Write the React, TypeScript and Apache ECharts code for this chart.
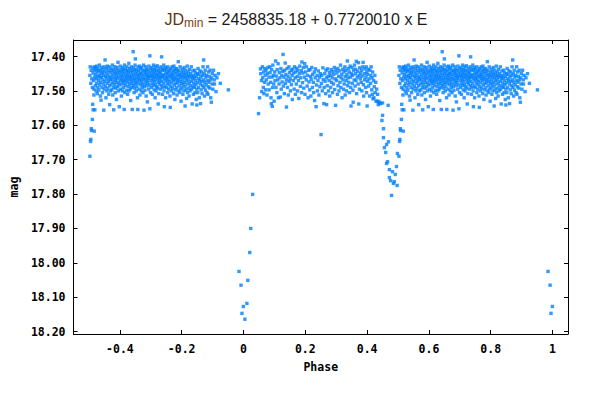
import React, { useEffect, useRef } from "react";
import * as echarts from "echarts";

const xTicks = [-0.4, -0.2, 0, 0.2, 0.4, 0.6, 0.8, 1];
const yTicks = [17.4, 17.5, 17.6, 17.7, 17.8, 17.9, 18.0, 18.1, 18.2];

// [phase, mag]; phases >= 0.5 are also shown at phase-1
const primaryMin: [number, number][] = [
  [0.9855, 18.025], [0.992, 18.065], [0.995, 18.147], [0.9995, 18.127], [0.0045, 18.164],
  [0.011, 18.118], [0.014, 18.051], [0.0203, 17.97], [0.0235, 17.9], [0.0297, 17.801],
  [0.0487, 17.566],
];

const maxOne: [number, number][] = [
  [0.052,17.52],[0.055,17.436],[0.056,17.45],[0.058,17.47],[0.059,17.502],[0.061,17.43],[0.062,17.462],[0.064,17.49],[0.065,17.445],[0.066,17.508],[0.068,17.475],[0.069,17.435],[0.07,17.455],[0.072,17.497],[0.073,17.44],[0.074,17.468],[0.076,17.512],[0.077,17.45],[0.079,17.432],[0.08,17.48],[0.082,17.46],[0.083,17.497],[0.085,17.43],[0.086,17.447],[0.088,17.475],[0.089,17.52],[0.091,17.438],[0.092,17.46],[0.094,17.49],[0.095,17.425],[0.097,17.455],[0.098,17.48],[0.099,17.53],[0.09,17.537],[0.093,17.545],
  [0.101,17.445],[0.102,17.47],[0.104,17.413],[0.105,17.49],[0.106,17.457],[0.108,17.505],[0.109,17.438],
  [0.111,17.468],[0.112,17.421],[0.113,17.52],[0.115,17.48],[0.116,17.447],[0.118,17.462],[0.119,17.518],
  [0.121,17.435],[0.122,17.495],[0.124,17.455],[0.125,17.474],[0.127,17.443],[0.128,17.394],[0.129,17.486],
  [0.131,17.46],[0.132,17.508],[0.133,17.44],[0.135,17.419],[0.136,17.478],[0.137,17.452],[0.139,17.547],[0.139,17.468],
  [0.141,17.435],[0.142,17.49],[0.144,17.458],[0.145,17.512],[0.147,17.43],[0.148,17.472],[0.149,17.447],
  [0.151,17.465],[0.152,17.5],[0.154,17.44],[0.155,17.482],[0.157,17.455],[0.158,17.525],[0.159,17.437],
  [0.161,17.47],[0.162,17.448],[0.164,17.495],[0.165,17.43],[0.167,17.462],[0.168,17.51],[0.169,17.445],
  [0.171,17.48],[0.172,17.434],[0.174,17.458],[0.175,17.5],[0.176,17.44],[0.178,17.47],[0.179,17.522],
  [0.181,17.45],[0.182,17.428],[0.184,17.487],[0.185,17.462],[0.187,17.441],[0.188,17.505],[0.189,17.416],
  [0.191,17.476],[0.192,17.448],[0.194,17.432],[0.195,17.492],[0.197,17.46],[0.198,17.421],[0.199,17.51],
  [0.201,17.445],[0.203,17.468],[0.204,17.43],[0.206,17.486],[0.207,17.455],[0.209,17.52],
  [0.211,17.44],[0.212,17.474],[0.214,17.497],[0.215,17.438],[0.217,17.458],[0.218,17.515],[0.219,17.466],
  [0.221,17.432],[0.223,17.49],[0.224,17.452],[0.226,17.475],[0.227,17.505],[0.229,17.445],
  [0.23,17.528],[0.232,17.462],[0.233,17.436],[0.235,17.546],[0.236,17.483],[0.238,17.455],[0.239,17.5],
  [0.241,17.47],[0.242,17.442],[0.244,17.512],[0.246,17.46],[0.247,17.488],[0.249,17.45],
  [0.251,17.627],[0.252,17.478],[0.253,17.455],[0.255,17.5],[0.257,17.433],[0.258,17.467],[0.26,17.537],
  [0.261,17.49],[0.263,17.45],[0.264,17.472],[0.266,17.508],[0.267,17.44],[0.269,17.54],[0.269,17.462],
  [0.271,17.485],[0.272,17.436],[0.274,17.458],[0.275,17.5],[0.277,17.47],[0.278,17.447],[0.279,17.515],
  [0.281,17.455],[0.282,17.49],[0.284,17.438],[0.285,17.475],[0.287,17.462],[0.288,17.505],[0.289,17.444],
  [0.291,17.48],[0.292,17.452],[0.294,17.432],[0.295,17.496],[0.297,17.465],[0.298,17.542],[0.299,17.44],
  [0.301,17.47],[0.302,17.448],[0.304,17.51],[0.305,17.435],[0.306,17.485],[0.308,17.458],[0.309,17.5],
  [0.311,17.442],[0.312,17.475],[0.314,17.425],[0.315,17.49],[0.316,17.462],[0.318,17.452],[0.319,17.52],
  [0.321,17.437],[0.322,17.468],[0.324,17.495],[0.325,17.445],[0.326,17.48],[0.328,17.43],[0.329,17.458],[0.329,17.512],
  [0.331,17.44],[0.332,17.47],[0.333,17.5],[0.335,17.452],[0.336,17.413],[0.337,17.485],[0.338,17.462],[0.339,17.435],
  [0.341,17.475],[0.342,17.445],[0.343,17.505],[0.345,17.428],[0.346,17.46],[0.347,17.49],[0.348,17.544],[0.349,17.45],
  [0.351,17.432],[0.352,17.478],[0.353,17.455],[0.354,17.498],[0.355,17.533],[0.356,17.44],[0.358,17.468],[0.359,17.425],
  [0.361,17.486],[0.362,17.45],[0.363,17.437],[0.364,17.47],[0.365,17.414],[0.366,17.508],[0.368,17.46],[0.369,17.443],
  [0.371,17.48],[0.372,17.418],[0.373,17.538],[0.374,17.455],[0.375,17.495],[0.376,17.433],[0.378,17.465],[0.379,17.448],
  [0.381,17.475],[0.382,17.44],[0.383,17.5],[0.384,17.457],[0.386,17.43],[0.387,17.417],[0.388,17.482],[0.389,17.515],
  [0.391,17.45],[0.392,17.468],[0.393,17.436],[0.395,17.49],[0.396,17.46],[0.397,17.43],[0.398,17.505],[0.399,17.445],
  [0.4,17.544],[0.401,17.472],[0.402,17.452],[0.404,17.437],[0.405,17.486],[0.406,17.465],[0.408,17.515],[0.409,17.44],
  [0.411,17.478],[0.412,17.455],[0.413,17.43],[0.415,17.497],[0.416,17.462],[0.417,17.51],[0.418,17.445],
  [0.419,17.523],[0.421,17.47],[0.422,17.52],[0.423,17.488],[0.425,17.455],[0.426,17.505],[0.428,17.475],[0.429,17.53],
  [0.431,17.495],[0.432,17.53],[0.434,17.51],[0.436,17.54],[0.438,17.531],[0.44,17.535],[0.443,17.537],[0.45,17.535],[0.468,17.542],
];

const secondaryMin: [number, number][] = [
  [0.448,17.586],[0.45,17.571],[0.453,17.61],[0.453,17.636],[0.456,17.665],[0.46,17.679],[0.463,17.656],
  [0.463,17.711],[0.466,17.706],[0.469,17.648],[0.472,17.729],[0.472,17.752],[0.476,17.761],[0.479,17.804],
  [0.482,17.735],[0.485,17.769],[0.488,17.764],[0.491,17.743],[0.495,17.72],[0.497,17.775],[0.498,17.682],
  [0.503,17.69],[0.505,17.647],[0.506,17.641],[0.5075,17.61],[0.5085,17.615],[0.511,17.583],[0.512,17.539],[0.5135,17.555],
];

const maxTwo: [number, number][] = [
  [0.503,17.455],[0.504,17.43],[0.506,17.478],[0.507,17.44],[0.509,17.465],[0.511,17.49],[0.513,17.448],[0.514,17.432],
  [0.515,17.47],[0.516,17.495],[0.517,17.44],[0.517,17.617],[0.518,17.46],[0.519,17.555],[0.519,17.43],[0.516,17.512],
  [0.521,17.452],[0.521,17.485],[0.522,17.437],[0.523,17.5],[0.524,17.465],[0.525,17.428],[0.525,17.478],[0.526,17.445],[0.527,17.508],[0.528,17.458],[0.529,17.49],[0.529,17.435],
  [0.531,17.47],[0.531,17.442],[0.532,17.498],[0.533,17.455],[0.534,17.425],[0.535,17.482],[0.536,17.462],[0.537,17.515],[0.537,17.44],[0.538,17.475],[0.539,17.45],[0.539,17.527],
  [0.541,17.46],[0.541,17.432],[0.542,17.49],[0.543,17.447],[0.544,17.505],[0.545,17.468],[0.546,17.438],[0.547,17.48],[0.548,17.556],[0.548,17.455],[0.549,17.495],[0.549,17.43],
  [0.551,17.472],[0.551,17.445],[0.552,17.41],[0.553,17.487],[0.554,17.458],[0.555,17.52],[0.556,17.436],[0.557,17.465],[0.558,17.5],[0.558,17.448],[0.559,17.478],[0.559,17.428],
  [0.561,17.492],[0.561,17.455],[0.562,17.44],[0.563,17.472],[0.564,17.51],[0.565,17.43],[0.566,17.462],[0.567,17.485],[0.567,17.54],[0.568,17.447],[0.569,17.468],[0.569,17.5],
  [0.571,17.435],[0.571,17.458],[0.572,17.48],[0.573,17.442],[0.574,17.497],[0.575,17.466],[0.576,17.425],[0.577,17.512],[0.577,17.452],[0.578,17.475],[0.579,17.438],[0.579,17.49],
  [0.58,17.555],[0.581,17.46],[0.582,17.445],[0.583,17.482],[0.584,17.43],[0.585,17.505],[0.585,17.468],[0.586,17.45],[0.587,17.492],[0.588,17.44],[0.588,17.475],[0.589,17.458],[0.589,17.525],
  [0.591,17.465],[0.591,17.432],[0.592,17.488],[0.593,17.45],[0.594,17.417],[0.595,17.477],[0.595,17.5],[0.596,17.44],[0.597,17.46],[0.598,17.546],[0.598,17.483],[0.599,17.447],
  [0.601,17.47],[0.601,17.428],[0.602,17.495],[0.603,17.455],[0.604,17.438],[0.605,17.515],[0.605,17.465],[0.606,17.48],[0.607,17.445],[0.608,17.458],[0.608,17.5],[0.609,17.432],[0.609,17.472],
  [0.611,17.49],[0.611,17.45],[0.612,17.44],[0.613,17.468],[0.614,17.554],[0.614,17.478],[0.615,17.425],[0.616,17.505],[0.617,17.46],[0.617,17.436],[0.618,17.485],[0.619,17.452],[0.619,17.47],
  [0.621,17.443],[0.621,17.498],[0.622,17.462],[0.623,17.43],[0.624,17.475],[0.625,17.455],[0.625,17.51],[0.626,17.44],[0.627,17.487],[0.628,17.467],[0.628,17.448],[0.629,17.42],[0.629,17.5],
  [0.631,17.458],[0.631,17.48],[0.632,17.435],[0.633,17.495],[0.634,17.465],[0.634,17.445],[0.635,17.528],[0.636,17.472],[0.637,17.43],[0.637,17.455],[0.638,17.49],[0.639,17.44],[0.639,17.478],
  [0.64,17.554],[0.641,17.462],[0.642,17.448],[0.643,17.386],[0.643,17.485],[0.644,17.433],[0.645,17.47],[0.646,17.505],[0.646,17.455],[0.647,17.44],[0.648,17.492],[0.648,17.465],[0.649,17.425],[0.649,17.48],
  [0.65,17.407],[0.651,17.45],[0.652,17.475],[0.652,17.437],[0.653,17.5],[0.654,17.46],[0.655,17.443],[0.655,17.488],[0.656,17.468],[0.657,17.52],[0.658,17.554],[0.658,17.452],[0.659,17.43],[0.659,17.478],
  [0.661,17.462],[0.661,17.44],[0.662,17.495],[0.663,17.455],[0.664,17.47],[0.664,17.428],[0.665,17.512],[0.666,17.448],[0.667,17.482],[0.667,17.436],[0.668,17.465],[0.669,17.5],[0.669,17.45],
  [0.671,17.473],[0.671,17.432],[0.672,17.49],[0.673,17.458],[0.674,17.442],[0.674,17.48],[0.675,17.505],[0.676,17.465],[0.677,17.425],[0.678,17.556],[0.678,17.452],[0.679,17.487],[0.679,17.44],
  [0.681,17.468],[0.681,17.498],[0.682,17.445],[0.683,17.477],[0.684,17.43],[0.684,17.46],[0.685,17.515],[0.686,17.45],[0.687,17.485],[0.687,17.438],[0.688,17.47],[0.689,17.455],[0.689,17.532],
  [0.691,17.44],[0.691,17.476],[0.692,17.46],[0.693,17.495],[0.694,17.428],[0.694,17.465],[0.695,17.448],[0.696,17.483],[0.697,17.398],[0.697,17.552],[0.698,17.457],[0.699,17.436],[0.699,17.505],
  [0.701,17.47],[0.701,17.445],[0.702,17.49],[0.703,17.455],[0.704,17.432],[0.705,17.478],[0.705,17.51],[0.706,17.462],[0.707,17.44],[0.708,17.485],[0.708,17.45],[0.709,17.425],[0.709,17.468],
  [0.711,17.497],[0.711,17.458],[0.712,17.438],[0.713,17.473],[0.714,17.52],[0.714,17.447],[0.715,17.482],[0.716,17.43],[0.717,17.462],[0.717,17.5],[0.718,17.452],[0.719,17.488],[0.719,17.44],
  [0.721,17.466],[0.721,17.427],[0.722,17.492],[0.723,17.455],[0.724,17.475],[0.724,17.538],[0.725,17.443],[0.726,17.508],[0.727,17.46],[0.727,17.435],[0.728,17.48],[0.729,17.45],[0.729,17.47],
  [0.731,17.445],[0.731,17.495],[0.732,17.462],[0.733,17.43],[0.734,17.485],[0.735,17.401],[0.735,17.455],[0.736,17.472],[0.737,17.44],[0.738,17.51],[0.738,17.46],[0.739,17.49],[0.739,17.436],
  [0.741,17.478],[0.741,17.452],[0.742,17.425],[0.743,17.5],[0.744,17.546],[0.744,17.465],[0.745,17.44],[0.746,17.487],[0.747,17.457],[0.747,17.432],[0.748,17.52],[0.749,17.47],[0.749,17.448],
  [0.751,17.49],[0.751,17.438],[0.752,17.462],[0.753,17.478],[0.754,17.45],[0.755,17.505],[0.755,17.43],[0.756,17.468],[0.757,17.445],[0.758,17.495],[0.758,17.458],[0.759,17.482],
  [0.761,17.44],[0.761,17.472],[0.762,17.515],[0.763,17.548],[0.763,17.455],[0.764,17.435],[0.765,17.488],[0.766,17.46],[0.767,17.5],[0.767,17.448],[0.768,17.477],[0.769,17.43],[0.769,17.465],
  [0.771,17.492],[0.771,17.452],[0.772,17.44],[0.773,17.47],[0.774,17.508],[0.774,17.458],[0.775,17.428],[0.776,17.483],[0.777,17.445],[0.778,17.466],[0.778,17.525],[0.779,17.437],[0.779,17.497],
  [0.781,17.46],[0.781,17.478],[0.782,17.45],[0.783,17.435],[0.784,17.49],[0.785,17.468],[0.785,17.512],[0.786,17.443],[0.787,17.475],[0.788,17.455],[0.789,17.415],[0.789,17.5],
  [0.791,17.465],[0.791,17.44],[0.792,17.485],[0.793,17.452],[0.794,17.505],[0.795,17.43],[0.795,17.472],[0.796,17.46],[0.797,17.495],[0.798,17.447],[0.798,17.53],[0.799,17.478],
  [0.801,17.455],[0.801,17.49],[0.802,17.437],[0.803,17.468],[0.804,17.51],[0.805,17.445],[0.805,17.482],[0.806,17.46],[0.807,17.5],[0.808,17.432],[0.808,17.475],[0.809,17.452],
  [0.811,17.544],[0.811,17.488],[0.812,17.462],[0.813,17.44],[0.814,17.497],[0.815,17.47],[0.815,17.45],[0.816,17.522],[0.817,17.48],[0.818,17.428],[0.818,17.458],[0.819,17.505],
  [0.821,17.468],[0.821,17.445],[0.822,17.492],[0.823,17.455],[0.824,17.515],[0.825,17.477],[0.825,17.438],[0.826,17.46],[0.827,17.5],[0.828,17.485],[0.829,17.45],
  [0.831,17.472],[0.831,17.43],[0.832,17.495],[0.833,17.458],[0.834,17.538],[0.835,17.465],[0.836,17.442],[0.837,17.488],[0.838,17.51],[0.838,17.455],[0.839,17.478],
  [0.841,17.462],[0.841,17.49],[0.842,17.44],[0.843,17.505],[0.844,17.47],[0.845,17.448],[0.846,17.482],[0.847,17.525],[0.848,17.458],[0.849,17.541],[0.849,17.495],
  [0.851,17.45],[0.851,17.476],[0.852,17.505],[0.853,17.435],[0.854,17.465],[0.855,17.49],[0.856,17.452],[0.857,17.52],[0.858,17.47],[0.859,17.442],
  [0.861,17.537],[0.861,17.48],[0.862,17.46],[0.863,17.497],[0.864,17.445],[0.865,17.472],[0.866,17.508],[0.867,17.455],[0.868,17.485],[0.869,17.43],
  [0.871,17.41],[0.871,17.468],[0.872,17.49],[0.873,17.45],[0.874,17.515],[0.875,17.475],[0.876,17.44],[0.877,17.498],[0.878,17.46],[0.879,17.482],
  [0.881,17.455],[0.882,17.505],[0.883,17.47],[0.884,17.43],[0.885,17.51],[0.886,17.488],[0.887,17.445],[0.888,17.475],[0.889,17.458],
  [0.891,17.492],[0.892,17.44],[0.893,17.468],[0.894,17.52],[0.896,17.533],[0.897,17.462],[0.898,17.48],[0.899,17.45],
  [0.901,17.495],[0.903,17.44],[0.905,17.468],[0.906,17.48],[0.908,17.455],[0.911,17.502],[0.914,17.462],[0.919,17.45],[0.925,17.478],[0.951,17.497],
];

const MONO = "'DejaVu Sans Mono', monospace";
const SANS = "'Liberation Sans', Arial, sans-serif";

export default function App() {
  const ref = useRef<HTMLDivElement>(null);
  useEffect(() => {
    document.body.style.margin = "0";
    if (!ref.current) return;
    const chart = echarts.init(ref.current, null, { renderer: "svg" });
    const base = [...primaryMin, ...maxOne, ...secondaryMin, ...maxTwo];
    const data: [number, number][] = [];
    base.forEach(([p, m]) => {
      data.push([p, m]);
      if (p >= 0.5) data.push([p - 1, m]);
    });
    const tickStyle = { show: true, inside: true, length: 4, lineStyle: { color: "#000", width: 1 } };
    const lineStyle = { show: true, onZero: false, lineStyle: { color: "#000", width: 1 } };
    const labelStyle = { color: "#000", fontFamily: MONO, fontWeight: "bold" as const, fontSize: 11.5 };
    chart.setOption({
      animation: false,
      backgroundColor: "#fff",
      title: {
        left: "center",
        top: 4,
        text: "{jd|JD}{sub|min}{t| = 2458835.18 + 0.7720010 x E}",
        textStyle: {
          fontWeight: "normal",
          rich: {
            jd: { fontFamily: SANS, fontSize: 16, fontWeight: "normal", color: "#5e3412", lineHeight: 20 },
            sub: { fontFamily: SANS, fontSize: 12, fontWeight: "normal", color: "#7a4010", lineHeight: 12, verticalAlign: "bottom" },
            t: { fontFamily: SANS, fontSize: 16, fontWeight: "normal", color: "#1a1a1a", lineHeight: 20 },
          },
        },
      },
      grid: { left: 62, right: 24, top: 40, bottom: 60, containLabel: false },
      xAxis: [
        {
          type: "value", min: -0.55, max: 1.05, position: "bottom",
          axisLine: lineStyle,
          axisTick: { ...tickStyle, customValues: xTicks },
          axisLabel: {
            ...labelStyle, margin: 9, customValues: xTicks,
            formatter: (v: number) => (Math.abs(v) < 1e-9 ? "0" : Math.abs(v - 1) < 1e-9 ? "1" : v.toFixed(1)),
          },
          splitLine: { show: false },
          name: "Phase", nameLocation: "middle", nameGap: 27,
          nameTextStyle: { ...labelStyle },
        },
        {
          type: "value", min: -0.55, max: 1.05, position: "top",
          axisLine: lineStyle,
          axisTick: { ...tickStyle, customValues: xTicks },
          axisLabel: { show: false },
          splitLine: { show: false },
        },
      ],
      yAxis: [
        {
          type: "value", inverse: true, min: 17.352, max: 18.207, position: "left",
          axisLine: lineStyle,
          axisTick: { ...tickStyle, customValues: yTicks },
          axisLabel: { ...labelStyle, margin: 8, customValues: yTicks, formatter: (v: number) => v.toFixed(2) },
          splitLine: { show: false },
          name: "mag", nameLocation: "middle", nameRotate: 90, nameGap: 49,
          nameTextStyle: { ...labelStyle },
        },
        {
          type: "value", inverse: true, min: 17.352, max: 18.207, position: "right",
          axisLine: lineStyle,
          axisTick: { ...tickStyle, customValues: yTicks },
          axisLabel: { show: false },
          splitLine: { show: false },
        },
      ],
      series: [
        {
          type: "scatter",
          xAxisIndex: 0,
          yAxisIndex: 0,
          symbol: "rect",
          symbolSize: 3.4,
          itemStyle: { color: "#0080ff" },
          silent: true,
          data,
        },
      ],
    });
    return () => chart.dispose();
  }, []);
  return <div ref={ref} style={{ width: 592, height: 394 }} />;
}
